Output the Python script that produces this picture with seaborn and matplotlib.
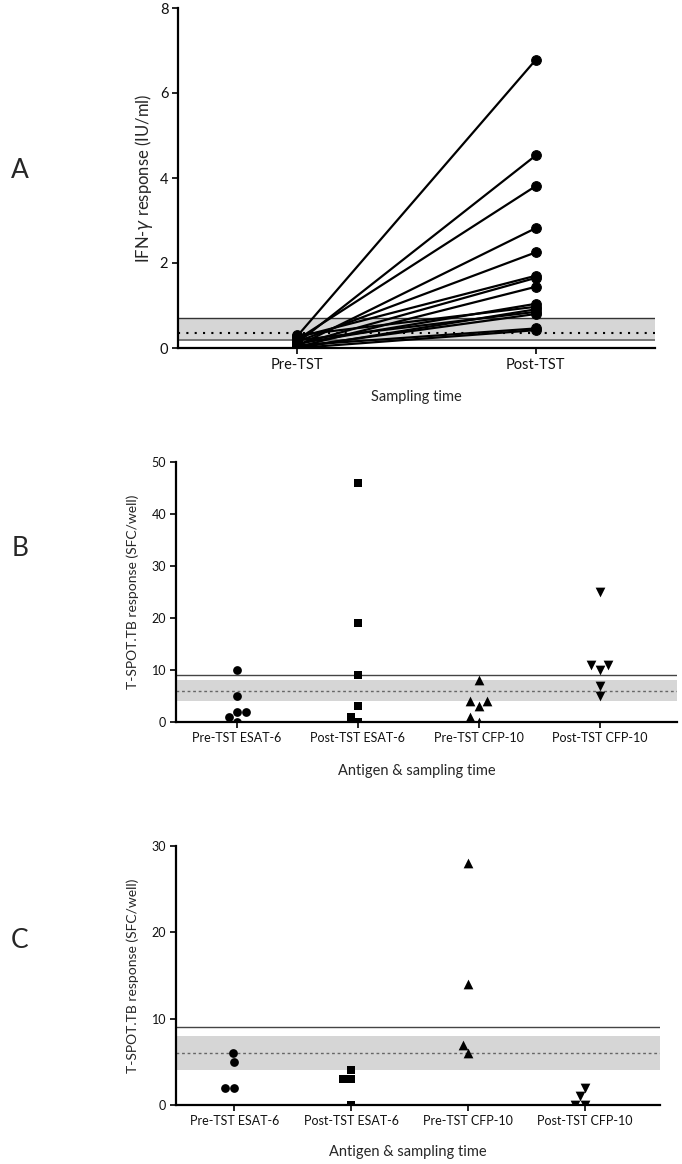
import numpy as np
import pandas as pd
import matplotlib
matplotlib.use("Agg")
import matplotlib.pyplot as plt
import seaborn as sns

# ---------------- data ----------------
# Panel A: paired IFN-gamma responses (IU/ml)
times_a = ["Pre-TST", "Post-TST"]
pre_a = [0.28, 0.12, 0.20, 0.05, 0.15, 0.25, 0.08, 0.02, 0.10, 0.30, 0.00, 0.18, 0.03, 0.06, 0.00]
post_a = [6.78, 4.53, 3.81, 2.82, 2.25, 1.70, 1.65, 1.44, 1.04, 0.97, 0.91, 0.85, 0.80, 0.46, 0.42]
band_a = (0.2, 0.7)
dotted_a = 0.35

# Panels B and C: T-SPOT.TB responses (SFC/well)
groups = ["Pre-TST ESAT-6", "Post-TST ESAT-6", "Pre-TST CFP-10", "Post-TST CFP-10"]
b_pre_esat = [10, 5, 2, 2, 0, 1]
b_post_esat = [46, 19, 9, 3, 0, 1]
b_pre_cfp = [8, 4, 3, 4, 0, 1]
b_post_cfp = [25, 11, 10, 11, 7, 5]

c_pre_esat = [6, 5, 2, 2]
c_post_esat = [3, 3, 4, 0]
c_pre_cfp = [28, 14, 7, 6]
c_post_cfp = [2, 1, 0, 0]

band_bc = (4, 8)
dotted_bc = 6
cutoff_bc = 9

markers = ["o", "s", "^", "v"]
marker_sizes = [6.3, 5.6, 7.0, 7.0]

# ---------------- style ----------------
sns.set_theme(style="ticks")
plt.rcParams["font.family"] = ["Lato", "DejaVu Sans"]
plt.rcParams["mathtext.fontset"] = "dejavusans"

fig = plt.figure(figsize=(6.82, 11.64), dpi=100)

def style_axes(ax, tick_fs):
    for s in ["top", "right"]:
        ax.spines[s].set_visible(False)
    for s in ["left", "bottom"]:
        ax.spines[s].set_color("black")
        ax.spines[s].set_linewidth(1.6)
    ax.tick_params(axis="both", direction="out", length=4, width=1.2,
                   color="black", labelsize=tick_fs, pad=3, labelcolor="#111111")

# ---------------- Panel A ----------------
axA = fig.add_axes([178/682, 1-348/1164, 477/682, 340/1164])
n = len(pre_a)
dfA = pd.DataFrame({
    "subject": list(range(n)) * 2,
    "time": [times_a[0]] * n + [times_a[1]] * n,
    "value": pre_a + post_a,
})
axA.axhspan(band_a[0], band_a[1], color="#d6d6d6", lw=0, zorder=0)
axA.axhline(band_a[1], color="#333333", lw=1.0, zorder=1)
axA.axhline(band_a[0], color="#777777", lw=1.4, zorder=1)
axA.axhline(dotted_a, color="black", lw=1.5, ls=(0, (1, 3)), zorder=1)
sns.lineplot(data=dfA, x="time", y="value", units="subject", estimator=None,
             color="black", lw=1.6, marker="o", markersize=7,
             markeredgecolor="black", ax=axA, zorder=3, legend=False)
axA.set_xlim(-0.5, 1.5)
axA.set_ylim(0, 8)
axA.set_yticks([0, 2, 4, 6, 8])
style_axes(axA, 10.5)
axA.set_xlabel("Sampling time", fontsize=10.5)
axA.set_ylabel("IFN-$\\gamma$ response (IU/ml)", fontsize=12)
axA.xaxis.set_label_coords(0.5, -0.124)
axA.yaxis.set_label_coords(-0.048, 0.5)

# ---------------- Panels B, C ----------------
def scatter_panel(rect, series, ymax, yticks, xlab_coords, ylab_x):
    ax = fig.add_axes(rect)
    ax.axhspan(band_bc[0], band_bc[1], color="#d6d6d6", lw=0, zorder=0)
    ax.axhline(dotted_bc, color="#666666", lw=1.0, ls=(0, (2, 2)), zorder=1)
    ax.axhline(cutoff_bc, color="#444444", lw=1.0, zorder=1)
    for g, vals, m, ms in zip(groups, series, markers, marker_sizes):
        d = pd.DataFrame({"group": [g] * len(vals), "value": vals})
        sns.swarmplot(data=d, x="group", y="value", order=groups, marker=m,
                      color="black", size=ms, ax=ax, zorder=3)
    ax.set_xlim(-0.5, 3.64)
    ax.set_ylim(0, ymax)
    ax.set_yticks(yticks)
    style_axes(ax, 9)
    ax.set_xlabel("Antigen & sampling time", fontsize=10.5)
    ax.set_ylabel("T-SPOT.TB response (SFC/well)", fontsize=10)
    ax.xaxis.set_label_coords(*xlab_coords)
    ax.yaxis.set_label_coords(ylab_x, 0.5)
    return ax

axB = scatter_panel([176/682, 1-722/1164, 501/682, 260/1164],
                    [b_pre_esat, b_post_esat, b_pre_cfp, b_post_cfp],
                    50, [0, 10, 20, 30, 40, 50], (0.481, -0.162), -0.074)
axC = scatter_panel([175.7/682, 1-1105/1164, 484.3/682, 259/1164],
                    [c_pre_esat, c_post_esat, c_pre_cfp, c_post_cfp],
                    30, [0, 10, 20, 30], (0.48, -0.154), -0.076)

# panel letters
for lab, y in [("A", 170), ("B", 548), ("C", 940)]:
    fig.text(20/682, 1-y/1164, lab, fontsize=19, ha="center", va="center")

fig.savefig("out.png", dpi=100)
